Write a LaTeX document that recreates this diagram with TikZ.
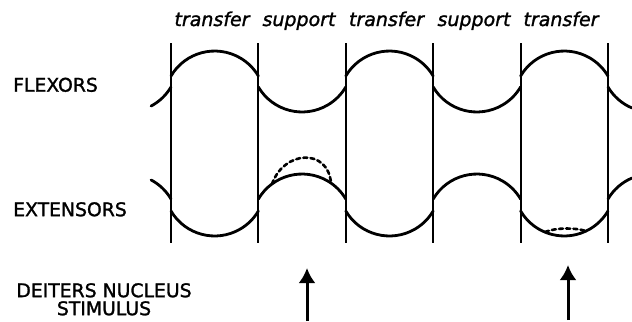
\documentclass[tikz,border=0pt]{standalone}
\usepackage{fontspec}
\setmainfont{DejaVu Sans}[FakeBold=1.4]
\usetikzlibrary{arrows.meta}

\begin{document}
\begin{tikzpicture}[x=1bp,y=-1bp,>={Latex[width=17bp,length=15bp]},
    bar/.style={line width=2bp},
    wave/.style={line width=2.8bp,line cap=round},
    hump/.style={wave,line width=2.6bp,dash pattern=on 4bp off 3.2bp},
    muscle/.style={inner sep=0pt,anchor=north west,font=\fontsize{18.8bp}{18bp}\selectfont},
    phase/.style={inner sep=0pt,anchor=base,font=\fontsize{19bp}{22bp}\selectfont\itshape}]

                \useasboundingbox (0,0) rectangle (632,321);

                % Phase names
                \node[phase] (transferA) at (212,26) {transfer};
                \node[phase] (supportA) at (299,26) {support};
                \node[phase] (transferB) at (386.5,26) {transfer};
                \node[phase] (supportB) at (474,26) {support};
                \node[phase] (transferC) at (561,26) {transfer};

                % Muscle names
                \node[muscle] (flexors) at (13,77.5) {FLEXORS};
                \node[muscle] (extensors) at (13,202) {EXTENSORS};
                \node[muscle,anchor=north,align=center] (deiters) at (104,283) {DEITERS NUCLEUS\\STIMULUS};

                % Phase boundaries
                \draw [bar] (171,43) -- (171,243);
                \draw [bar] (258.4,43) -- (258.4,243);
                \draw [bar] (345.8,43) -- (345.8,243);
                \draw [bar] (433.2,43) -- (433.2,243);
                \draw [bar] (520.6,43) -- (520.6,243);
                \draw [bar] (608,43) -- (608,243);

                % Flexors
                \draw [wave] (171,87) arc[start angle=30.5,end angle=62,radius=50.7];
                \draw [wave] (171,76) arc[start angle=-149.5,end angle=-30.5,radius=50.7];
                \draw [wave] (258.4,87) arc[start angle=149.5,end angle=30.5,radius=50.7];
                \draw [wave] (345.8,76) arc[start angle=-149.5,end angle=-30.5,radius=50.7];
                \draw [wave] (433.2,87) arc[start angle=149.5,end angle=30.5,radius=50.7];
                \draw [wave] (520.6,76) arc[start angle=-149.5,end angle=-30.5,radius=50.7];
                \draw [wave] (608,87) arc[start angle=149.5,end angle=113,radius=50.7];

                % Extensors
                \draw [wave] (171,199) arc[start angle=-30.5,end angle=-62,radius=50.7];
                \draw [wave] (171,211) arc[start angle=149.5,end angle=30.5,radius=50.7];
                \draw [wave] (258.4,199) arc[start angle=-149.5,end angle=-30.5,radius=50.7];
                \draw [wave] (345.8,211) arc[start angle=149.5,end angle=30.5,radius=50.7];
                \draw [wave] (433.2,199) arc[start angle=-149.5,end angle=-30.5,radius=50.7];
                \draw [wave] (520.6,211) arc[start angle=149.5,end angle=30.5,radius=50.7];
                \draw [wave] (608,199) arc[start angle=-149.5,end angle=-113,radius=50.7];

                % Responses to the stimulus
                \draw [hump] (272,184) .. controls (284,150) and (328,148) .. (331,183);
                \draw [hump] (545,232) .. controls (556,227.5) and (575,227.5) .. (586,231);

                % Stimulus
                \draw [->,line width=3bp] (307,321) -- (307,268);
                \draw [->,line width=3bp] (568,320) -- (568,265);

            \end{tikzpicture}
\end{document}
